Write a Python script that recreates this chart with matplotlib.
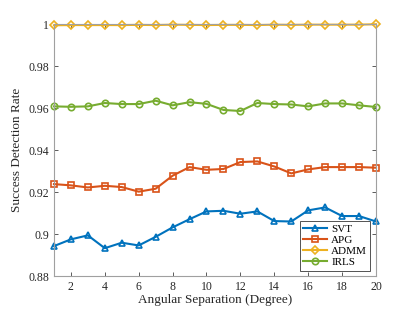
import numpy as np
import matplotlib.pyplot as plt

plt.rcParams['font.family'] = ['Liberation Serif', 'DejaVu Serif']

angles = np.arange(1, 21)

svt = [0.8943, 0.8975, 0.8994, 0.8933, 0.8959, 0.8946, 0.8987, 0.9032, 0.9071, 0.9108,
       0.9111, 0.9097, 0.9108, 0.9062, 0.9060, 0.9113, 0.9127, 0.9086, 0.9086, 0.9060]
apg = [0.9238, 0.9232, 0.9222, 0.9230, 0.9224, 0.9202, 0.9216, 0.9278, 0.9319, 0.9306,
       0.9310, 0.9343, 0.9346, 0.9322, 0.9289, 0.9308, 0.9319, 0.9319, 0.9319, 0.9316]
admm = [0.9994, 0.9995, 0.9995, 0.9995, 0.9995, 0.9996, 0.9995, 0.9997, 0.9996, 0.9995,
        0.9996, 0.9996, 0.9995, 0.9997, 0.9996, 0.9997, 0.9997, 0.9997, 0.9997, 0.9999]
irls = [0.9608, 0.9606, 0.9608, 0.9624, 0.9619, 0.9619, 0.9635, 0.9613, 0.9628, 0.9620,
        0.9591, 0.9586, 0.9624, 0.9619, 0.9617, 0.9608, 0.9622, 0.9622, 0.9613, 0.9605]

series = [
    ("SVT", svt, '^', (0.0, 0.447, 0.741)),
    ("APG", apg, 's', (0.85, 0.325, 0.098)),
    ("ADMM", admm, 'D', (0.929, 0.694, 0.125)),
    ("IRLS", irls, 'o', (0.466, 0.674, 0.188)),
]

fig = plt.figure(figsize=(4.15, 3.12), dpi=100)
ax = fig.add_axes([0.130, 0.115, 0.776, 0.808])

for name, vals, marker, color in series:
    ms = 3.6 if marker == 'D' else 4.6
    ax.plot(angles, vals, marker=marker, color=color, linewidth=1.5,
            markersize=ms, markerfacecolor='none', markeredgewidth=1.2,
            label=name, clip_on=False)

ax.set_xlim(1, 20)
ax.set_ylim(0.88, 1.0)
ax.set_xticks(np.arange(2, 21, 2))
ax.set_yticks(np.arange(0.88, 1.001, 0.02))
ax.set_yticklabels(["0.88", "0.9", "0.92", "0.94", "0.96", "0.98", "1"])

for s in ax.spines.values():
    s.set_color('#a0a0a0')
    s.set_linewidth(0.8)
ax.tick_params(direction='in', length=3, width=0.6, color='#404040',
               labelsize=8.5, labelcolor='#262626', top=True, right=True)

ax.set_xlabel("Angular Separation (Degree)", fontsize=9.5, color='#262626', labelpad=1)
ax.set_ylabel("Success Detection Rate", fontsize=9.5, color='#262626', labelpad=4)

leg = ax.legend(loc='lower right', fontsize=8, frameon=True, fancybox=False,
                borderpad=0.3, labelspacing=0.12, handlelength=2.2,
                handletextpad=0.35, borderaxespad=0.5)
leg.get_frame().set_edgecolor('#262626')
leg.get_frame().set_linewidth(0.7)

fig.savefig("out.png", dpi=100)
